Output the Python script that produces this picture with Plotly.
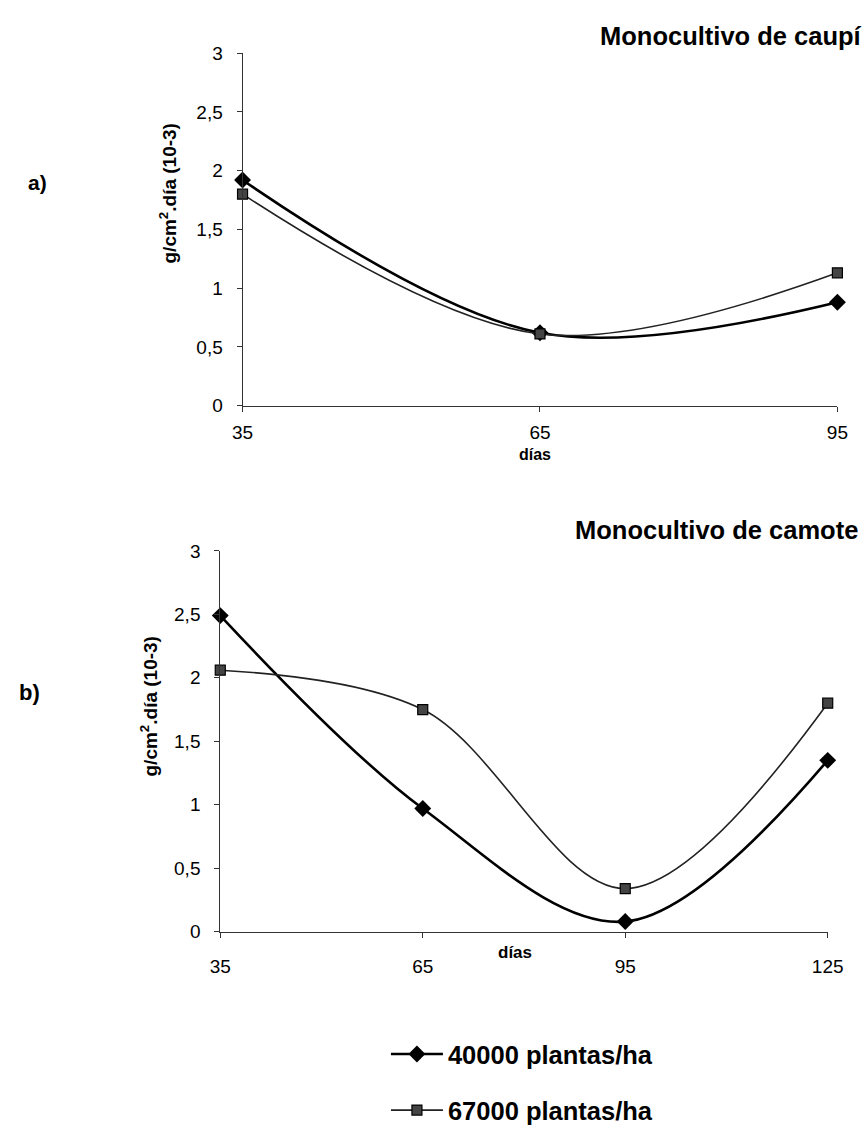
import plotly.graph_objects as go

# ---- data ----
dias_a = [35, 65, 95]
caupi_40000 = [1.92, 0.62, 0.88]
caupi_67000 = [1.80, 0.61, 1.13]

dias_b = [35, 65, 95, 125]
camote_40000 = [2.49, 0.97, 0.08, 1.35]
camote_67000 = [2.06, 1.75, 0.34, 1.80]

series_names = ["40000 plantas/ha", "67000 plantas/ha"]
y_tickvals = [0, 0.5, 1, 1.5, 2, 2.5, 3]
y_ticktext = ["0", "0,5", "1", "1,5", "2", "2,5", "3"]
title_a = "Monocultivo de caupí"
title_b = "Monocultivo de camote"
y_title = "g/cm<sup>2</sup>.día (10-3)"
x_title = "días"

W, H = 866, 1141
FONT = "Liberation Sans, Arial, sans-serif"


def px(x):
    return x / W


def py(y):
    return 1 - y / H


diamond_style = dict(mode="lines+markers",
                     line=dict(color="black", width=2.6, shape="spline", smoothing=1),
                     marker=dict(symbol="diamond", size=13, color="black"))
square_style = dict(mode="lines+markers",
                    line=dict(color="#222", width=1.6, shape="spline", smoothing=1),
                    marker=dict(symbol="square", size=10, color="#444",
                                line=dict(color="black", width=1.2)))

fig = go.Figure()
fig.add_trace(go.Scatter(x=dias_a, y=caupi_40000, name=series_names[0], xaxis="x", yaxis="y",
                         showlegend=False, cliponaxis=False, **diamond_style))
fig.add_trace(go.Scatter(x=dias_a, y=caupi_67000, name=series_names[1], xaxis="x", yaxis="y",
                         showlegend=False, cliponaxis=False, **square_style))
fig.add_trace(go.Scatter(x=dias_b, y=camote_40000, name=series_names[0], xaxis="x2", yaxis="y2",
                         legendgroup="a", cliponaxis=False, **diamond_style))
fig.add_trace(go.Scatter(x=dias_b, y=camote_67000, name=series_names[1], xaxis="x2", yaxis="y2",
                         legendgroup="b", cliponaxis=False, **square_style))

axis_common = dict(showline=True, linecolor="#333", linewidth=1, showgrid=False,
                   zeroline=False, ticks="outside", ticklen=5, tickcolor="#333",
                   tickfont=dict(family=FONT, size=19, color="black"))

fig.update_layout(
    width=W, height=H,
    margin=dict(l=0, r=0, t=0, b=0),
    paper_bgcolor="white", plot_bgcolor="white",
    font=dict(family=FONT, color="black"),
    xaxis=dict(domain=[px(239), px(853)], range=[35, 95], anchor="y",
               tickvals=dias_a, ticklabelstandoff=5, **axis_common),
    yaxis=dict(domain=[py(403), py(44)], range=[0, 3], anchor="x",
               tickvals=y_tickvals, ticktext=y_ticktext, ticklabelstandoff=10, **axis_common),
    xaxis2=dict(domain=[px(216), px(843)], range=[35, 125], anchor="y2",
                tickvals=dias_b, ticklabelstandoff=12, **axis_common),
    yaxis2=dict(domain=[py(939), py(551)], range=[0, 3], anchor="x2",
                tickvals=y_tickvals, ticktext=y_ticktext, ticklabelstandoff=10, **axis_common),
    legend=dict(x=px(387), y=py(1040), xanchor="left", yanchor="top",
                font=dict(family=FONT, size=25.5, color="black", weight="bold"),
                tracegroupgap=20, itemwidth=52, bgcolor="rgba(0,0,0,0)"),
)

annots = [
    dict(text=title_a, x=px(606), y=py(26), xanchor="left", yanchor="middle",
         font=dict(size=25.5, weight="bold")),
    dict(text=title_b, x=px(580), y=py(530), xanchor="left", yanchor="middle",
         font=dict(size=25.5, weight="bold")),
    dict(text="a)", x=px(27), y=py(176), xanchor="center", yanchor="middle",
         font=dict(size=21, weight="bold")),
    dict(text="b)", x=px(19), y=py(695), xanchor="center", yanchor="middle",
         font=dict(size=22, weight="bold")),
    dict(text=y_title, x=px(162), y=py(187), xanchor="center", yanchor="middle",
         textangle=-90, font=dict(size=19, weight="bold")),
    dict(text=y_title, x=px(142), y=py(710), xanchor="center", yanchor="middle",
         textangle=-90, font=dict(size=19, weight="bold")),
    dict(text=x_title, x=px(541), y=py(453), xanchor="center", yanchor="middle",
         font=dict(size=16, weight="bold")),
    dict(text=x_title, x=px(520), y=py(960), xanchor="center", yanchor="middle",
         font=dict(size=17, weight="bold")),
]
for a in annots:
    a.update(xref="paper", yref="paper", showarrow=False)
    a["font"].update(family=FONT, color="black")
fig.update_layout(annotations=annots)

fig.write_html("out.html")
